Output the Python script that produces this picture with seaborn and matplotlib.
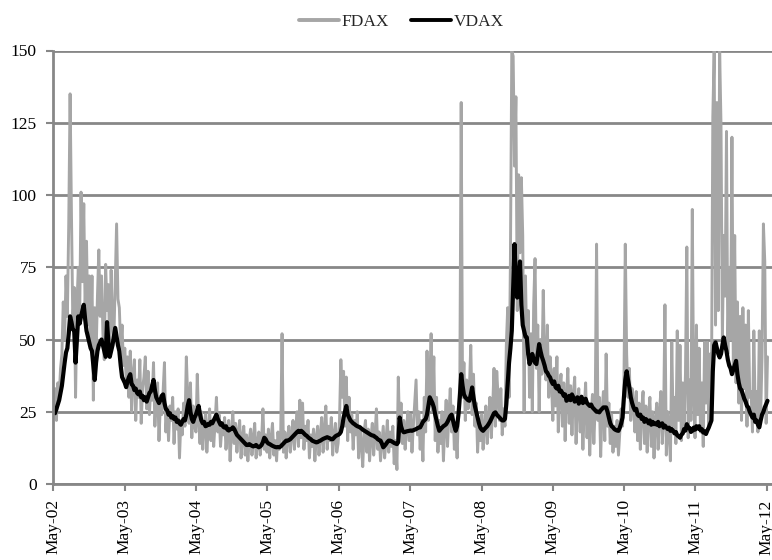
import pandas as pd
import matplotlib
matplotlib.use("Agg")
import matplotlib.pyplot as plt
import matplotlib.dates as mdates
from matplotlib.lines import Line2D
import seaborn as sns

# Weekly observations (Fridays), May 2002 - May 2012
start_date = "2002-05-03"

fdax = [
    # 2002/03
    27, 33, 22, 35, 30, 40, 45, 63, 50, 72, 58, 90, 135, 93, 55, 68, 30, 62, 75, 58,
    101, 70, 97, 60, 84, 55, 72, 48, 72, 29, 61, 45, 65, 81, 58, 72, 52, 43, 76, 60,
    69, 45, 74, 55, 50, 70, 90, 64, 61, 47, 55, 41,
    # 2003/04
    47, 36, 44, 30, 46, 25, 38, 43, 22, 36, 30, 43, 21, 33, 37, 44, 26, 39, 24, 34,
    29, 42, 20, 30, 35, 15, 28, 24, 32, 42, 18, 26, 15, 27, 22, 30, 14, 25, 19, 26,
    9, 22, 17, 28, 20, 44, 30, 21, 35, 16, 27, 20,
    # 2004/05
    18, 38, 22, 14, 25, 12, 20, 24, 11, 19, 26, 15, 22, 13, 21, 30, 18, 24, 13, 20,
    17, 23, 12, 19, 22, 8, 18, 25, 14, 21, 11, 18, 22, 9, 16, 20, 10, 17, 8, 15,
    19, 10, 16, 21, 9, 14, 18, 10, 15, 26, 12, 17,
    # 2005/06
    11, 19, 9, 16, 21, 10, 15, 8, 18, 12, 17, 52, 11, 18, 9, 16, 20, 11, 17, 22,
    12, 19, 25, 13, 29, 16, 28, 12, 20, 15, 22, 9, 17, 13, 19, 8, 16, 20, 10, 17,
    23, 11, 18, 27, 12, 20, 15, 23, 10, 17, 21, 11,
    # 2006/07
    14, 22, 43, 30, 39, 20, 37, 15, 30, 18, 24, 12, 22, 17, 25, 9, 20, 14, 6, 18,
    22, 11, 19, 8, 16, 21, 10, 17, 26, 12, 18, 8, 14, 20, 9, 15, 22, 11, 18, 13,
    20, 7, 15, 5, 37, 18, 28, 14, 22, 12, 19, 25,
    # 2007/08
    15, 24, 11, 20, 28, 36, 17, 25, 12, 22, 8, 30, 18, 46, 22, 34, 52, 25, 44, 15,
    30, 11, 22, 14, 25, 8, 20, 29, 13, 24, 33, 18, 27, 12, 20, 9, 26, 35, 132, 30,
    42, 22, 36, 26, 33, 48, 24, 38, 20, 28, 11, 22,
    # 2008/09
    15, 24, 12, 20, 27, 14, 23, 30, 16, 26, 40, 20, 39, 30, 22, 33, 17, 26, 20, 48,
    61, 30, 78, 150, 148, 110, 134, 60, 107, 80, 106, 86, 25, 72, 45, 60, 30, 52, 25, 62,
    78, 40, 55, 25, 50, 38, 67, 42, 36, 55, 30, 44,
    # 2009/10
    36, 22, 40, 27, 44, 18, 33, 38, 20, 35, 15, 30, 40, 21, 34, 17, 31, 37, 14, 28,
    33, 18, 30, 12, 26, 35, 16, 28, 10, 24, 31, 14, 27, 83, 22, 30, 9.5, 25, 32, 15,
    45, 20, 28, 14, 24, 11, 20, 13, 22, 10, 18, 26,
    # 2010/11
    20, 35, 83, 45, 30, 40, 22, 33, 28, 18, 32, 15, 28, 12, 26, 32, 14, 27, 11, 24,
    30, 13, 25, 9, 22, 28, 12, 25, 32, 14, 22, 62, 10, 25, 18, 8, 49, 20, 30, 14,
    53, 22, 48, 15, 35, 20, 38, 82, 16, 36, 22, 95,
    # 2011/12
    30, 16, 55, 24, 47, 18, 35, 13, 49, 28, 49, 20, 45, 30, 127, 150, 55, 132, 60, 150,
    124, 50, 86, 65, 122, 45, 75, 50, 120, 40, 86, 35, 63, 28, 58, 22, 61, 33, 55, 20,
    60, 30, 32, 18, 53, 25, 32, 18, 53, 24, 44, 90, 77, 21, 44,
]

vdax = [
    25, 24.5, 26, 27.5, 29, 31.5, 34, 38, 42, 45.5, 47, 52, 58, 56, 53.5, 53, 42, 50, 58, 55.5, 58, 60, 62, 57, 53, 51,
    49, 47, 46, 41, 36, 42, 46, 48, 49, 50, 48, 46, 44, 56, 49, 44, 46, 48, 51, 54, 51, 48, 46, 41, 37, 36,
    35, 33.5, 35.5, 37, 38, 34.5, 34, 32.5, 33, 31.5, 31, 32, 30, 30.5, 29, 30, 28.5, 30, 31.5, 32, 34, 36, 32.5, 30, 29, 28,
    29, 30.5, 31, 28, 26, 25.5, 24, 24.5, 23, 23.5, 22.5, 23, 21.5, 22, 21, 20.5, 21.5, 22.5, 22, 24, 27, 29, 25, 22.5, 21.5, 23,
    24, 25.5, 27, 24, 22, 21, 21.5, 20, 20.2, 20.8, 20.5, 21.5, 21, 22, 23, 24, 22.5, 21.5, 20.5, 21, 19.8, 19.5, 20, 18.8, 18.5, 19,
    19, 19.6, 19, 18, 17, 16.5, 16, 15.5, 15, 14.5, 14, 13.5, 13.5, 13.8, 13.5, 13.2, 13, 13.2, 13.5, 13, 12.7, 13, 13.5, 14.5, 16, 15.5,
    14.5, 14, 13.8, 13.5, 13.2, 13, 12.8, 12.7, 12.8, 12.7, 13, 13.5, 14, 14.5, 15, 15, 15.2, 15.5, 16, 16.5, 17, 17.5, 18, 18.4, 18, 18.4,
    18, 17.5, 17, 16.7, 16.2, 15.8, 15.5, 15, 14.8, 14.6, 14.4, 14.5, 14.8, 15, 15.3, 15.6, 15.8, 16, 16.2, 16, 15.8, 15.5, 15.5, 16, 16.5, 16.8,
    17, 17.3, 18, 20, 23, 25, 27, 24, 23, 22, 21.5, 21, 20.7, 20.3, 20, 19.8, 19.6, 19.2, 18.8, 18.5, 18.2, 17.9, 17.6, 17.3, 17, 16.8,
    16.7, 16.3, 16, 15.5, 15.2, 15, 14, 12.7, 13.2, 13.8, 14.5, 15, 15, 14.8, 14.5, 14.2, 14, 13.8, 14.5, 23, 20, 18.5, 17.9, 18, 18.2, 18.3,
    18.4, 18.5, 18.4, 18.6, 18.8, 19, 19.3, 19.5, 19.6, 20.5, 21.5, 22, 22.5, 24, 27, 30, 29, 28, 26.5, 24, 22, 20, 18.4, 19, 19.5, 20,
    20.3, 20.7, 21.5, 22.5, 23.5, 24, 22, 20, 18.4, 20, 24, 30, 38, 34, 31, 30, 29.5, 29, 28.8, 31, 33.4, 30, 27, 25, 23, 21,
    19.5, 18.8, 18.4, 19, 19.5, 20, 20.7, 21.5, 22.5, 23.5, 24.5, 24.8, 24, 23.5, 23, 22.5, 22, 22, 22.5, 27.6, 35, 42, 47, 53, 68, 83,
    70, 64.5, 72, 77, 62, 55, 53, 51, 50.7, 45, 41.5, 43, 45, 43, 42, 41.5, 45, 48.4, 46, 44, 42.6, 41, 39, 38.5, 37.5, 36.9,
    35.5, 34.6, 35.5, 33.5, 33, 34, 32, 32.3, 31.5, 30.5, 31, 28.8, 29.2, 30.5, 29, 31, 30, 28.5, 29.2, 30, 27.8, 29, 30.2, 28, 28.6, 29.5,
    28, 27.5, 27, 27.5, 26.5, 26, 25.5, 25, 25, 24.8, 25.5, 26, 26.5, 26.5, 26.5, 25, 23, 21, 20, 19.6, 19, 18.7, 18.5, 18.4, 19.5, 21,
    23, 30, 36, 39, 36, 33.4, 30, 28, 26.5, 25.5, 26, 24, 23.5, 24, 22.5, 23, 21.5, 22.5, 22, 21, 22, 20.5, 21.5, 20.7, 21, 20.5,
    21.5, 20, 20.7, 21, 19.5, 20.2, 19.6, 19, 19.5, 18.4, 19, 18.4, 17.5, 18, 16.8, 16.5, 16, 17, 17.5, 19, 18.5, 20.7, 19.5, 19.4, 18, 18.4,
    19.5, 18.8, 20, 19.2, 20, 18.6, 19, 17.8, 18.2, 17.3, 18.5, 19.5, 20.7, 22, 39, 48, 49, 47, 45, 43.8, 45, 48, 50.7, 48, 46, 43,
    41, 40, 38, 39.5, 41, 42.6, 38, 35, 33, 32.5, 31, 29.5, 28.5, 27, 26.5, 25, 24, 23, 24, 21.5, 22, 20.5, 19.6, 22, 24, 25,
    26.5, 27.6, 28.8,
]

year_ticks = ["2002-05-01", "2003-05-01", "2004-05-01", "2005-05-01", "2006-05-01",
              "2007-05-01", "2008-05-01", "2009-05-01", "2010-05-01", "2011-05-01",
              "2012-05-01"]
y_ticks = [0, 25, 50, 75, 100, 125, 150]

sns.set_style("white")
plt.rcParams["font.family"] = ["Liberation Serif", "DejaVu Serif"]

fdax_df = pd.DataFrame({"date": pd.date_range(start_date, periods=len(fdax), freq="7D"),
                        "FDAX": fdax})
vdax_df = pd.DataFrame({"date": pd.date_range(start_date, periods=len(vdax), freq="7D"),
                        "VDAX": vdax})

GRID = "#878787"
FDAX_COLOR = "#A6A6A6"

fig = plt.figure(figsize=(7.72, 5.60), dpi=100)
ax = fig.add_axes([53.3 / 772, 1 - 484 / 560, (772 - 53.3) / 772, (484 - 50.5) / 560])

sns.lineplot(data=fdax_df, x="date", y="FDAX", ax=ax, color=FDAX_COLOR,
             linewidth=2.1, estimator=None, legend=False)
sns.lineplot(data=vdax_df, x="date", y="VDAX", ax=ax, color="black",
             linewidth=3.0, estimator=None, legend=False)

ax.set_ylim(0, 150)
ax.set_yticks(y_ticks)
ax.set_xlim(pd.Timestamp("2002-05-01"), pd.Timestamp("2012-05-27"))
ax.set_xticks(pd.to_datetime(year_ticks))
ax.xaxis.set_major_formatter(mdates.DateFormatter("%b-%y"))
ax.set_xlabel("")
ax.set_ylabel("")

ax.grid(axis="y", color=GRID, linewidth=2)
ax.grid(axis="x", visible=False)
ax.set_axisbelow(True)
for side in ("top", "right"):
    ax.spines[side].set_visible(False)
for side in ("left", "bottom"):
    ax.spines[side].set_color(GRID)
    ax.spines[side].set_linewidth(2)

ax.tick_params(axis="both", which="major", bottom=True, left=True, direction="out",
               length=5, width=1.5, color=GRID, labelsize=12.5, labelcolor="black")
ax.tick_params(axis="x", labelrotation=90, pad=6)
ax.tick_params(axis="y", pad=7)

handles = [Line2D([], [], color=FDAX_COLOR, linewidth=2.8),
           Line2D([], [], color="black", linewidth=2.8)]
fig.legend(handles, ["FDAX", "VDAX"], loc="center", bbox_to_anchor=(0.52, 0.961),
           ncol=2, frameon=False, fontsize=12.5, handlelength=2.3,
           handletextpad=0.15, columnspacing=1.3)

fig.savefig("out.png", dpi=100)
